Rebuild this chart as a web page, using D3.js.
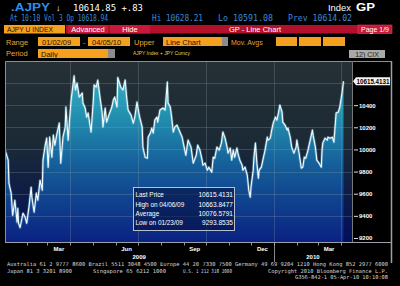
<!DOCTYPE html>
<html><head><meta charset="utf-8">
<script src="https://cdn.jsdelivr.net/npm/d3@7"></script>
<style>html,body{margin:0;padding:0;background:#000;overflow:hidden}svg{display:block}</style>
</head><body><svg id="c" width="400" height="286"></svg>
<script>
const dates = [
"2009-01-02","2009-01-07","2009-01-08","2009-01-11","2009-01-13","2009-01-16","2009-01-19","2009-01-20","2009-01-21","2009-01-23","2009-01-27","2009-01-30",
"2009-02-01","2009-02-04","2009-02-07","2009-02-08","2009-02-11","2009-02-14","2009-02-16","2009-02-19","2009-02-22","2009-02-23","2009-02-26","2009-02-28",
"2009-03-02","2009-03-04","2009-03-07","2009-03-09","2009-03-11","2009-03-14","2009-03-17","2009-03-19","2009-03-22","2009-03-25","2009-03-26","2009-03-29","2009-03-31",
"2009-04-02","2009-04-06","2009-04-08","2009-04-10","2009-04-13","2009-04-17","2009-04-18","2009-04-21","2009-04-23","2009-04-25","2009-04-29",
"2009-05-02","2009-05-03","2009-05-06","2009-05-08","2009-05-11","2009-05-14","2009-05-15","2009-05-18","2009-05-20","2009-05-23","2009-05-27","2009-05-29","2009-05-31",
"2009-06-03","2009-06-04","2009-06-08","2009-06-11","2009-06-14","2009-06-16","2009-06-18","2009-06-22","2009-06-25","2009-06-27","2009-06-30",
"2009-07-03","2009-07-07","2009-07-08","2009-07-11","2009-07-14","2009-07-15","2009-07-18","2009-07-20","2009-07-22","2009-07-24","2009-07-27","2009-07-28","2009-07-31",
"2009-08-04","2009-08-07","2009-08-10","2009-08-11","2009-08-14","2009-08-16","2009-08-18","2009-08-20","2009-08-23","2009-08-27","2009-08-30",
"2009-09-02","2009-09-04","2009-09-07","2009-09-11","2009-09-14","2009-09-18","2009-09-20","2009-09-23","2009-09-26","2009-09-27","2009-09-30",
"2009-10-03","2009-10-05","2009-10-09","2009-10-11","2009-10-13","2009-10-16","2009-10-19","2009-10-22","2009-10-24","2009-10-27","2009-10-30","2009-10-31",
"2009-11-03","2009-11-05","2009-11-07","2009-11-09","2009-11-12","2009-11-14","2009-11-16","2009-11-19","2009-11-20","2009-11-23","2009-11-26","2009-11-27","2009-11-28","2009-11-30",
"2009-12-01","2009-12-04","2009-12-05","2009-12-07","2009-12-09","2009-12-11","2009-12-12","2009-12-15","2009-12-17","2009-12-20","2009-12-23","2009-12-24","2009-12-27","2009-12-29","2009-12-31",
"2010-01-03","2010-01-05","2010-01-07","2010-01-09","2010-01-12","2010-01-13","2010-01-16","2010-01-19","2010-01-20","2010-01-23","2010-01-25","2010-01-28","2010-01-31",
"2010-02-01","2010-02-04","2010-02-07","2010-02-09","2010-02-11","2010-02-13","2010-02-16","2010-02-19","2010-02-22","2010-02-23","2010-02-26","2010-02-28",
"2010-03-03","2010-03-06","2010-03-07","2010-03-08","2010-03-11","2010-03-14","2010-03-15","2010-03-18","2010-03-21","2010-03-23","2010-03-26","2010-03-29","2010-03-31",
"2010-04-03","2010-04-05"];
const values = [
10010,9903,9695,9605,9405,9541,9342,9469,9333,9294,9424,9387,
9333,9478,9659,9568,9433,9605,9541,9722,9632,9903,10039,10102,
9840,10111,9930,10129,10039,10148,10238,9876,10111,10202,10383,10084,10283,
10446,10664,10537,10600,10473,10510,10419,10374,10292,10329,10157,
10446,10582,10564,10627,10473,10329,10202,10374,10247,10310,10383,10446,10473,
10383,10650,10564,10537,10627,10473,10356,10310,10238,10292,10428,
10310,10202,10021,9930,9921,10111,10148,10193,10148,10265,10292,10247,10356,
10374,10356,10609,10419,10383,10283,10157,10202,10220,10157,10111,
10012,9948,10084,10021,9876,9948,10039,9994,9903,9858,9876,
9813,9840,9795,9930,9921,10021,9994,10057,10157,10102,10012,9967,
10012,9903,9994,9930,10012,9948,9903,9858,9813,9840,9767,9704,9632,9568,
9659,9813,9930,10057,9876,9740,9813,9840,9903,9994,10111,10084,10102,10175,10238,
10292,10265,10329,10401,10338,10247,10220,10175,10193,10111,10021,9967,10021,
10084,9967,9831,9840,9930,9921,9994,10084,10175,10129,10021,9903,
9876,9840,9994,10057,10102,10084,10111,10102,10111,10066,10329,10338,10383,
10510,10615.41];
const yTicks = [9200,9400,9600,9800,10000,10200,10400];
const yGrid = [9400,9600,9800,10000,10200,10400,10600];
const labelMonths = ["2009-03","2009-06","2009-09","2009-12","2010-03"];
const gridDates = ["2009-04-01","2009-07-01","2009-10-01","2010-01-01","2010-04-01"];
const years = ["2009","2010"];
const statLabels = ["Last Price","High on 04/06/09","Average","Low on 01/23/09"];
const statValues = ["10615.4131","10663.8477","10076.5791","9293.8535"];
const lastLabel = "10615.4131";

const parse = d3.timeParse("%Y-%m-%d");
const data = dates.map((d,i)=>({date:parse(d), v:values[i]}));
const svg = d3.select("#c");
const L=5, R=352, T=61, B=242, AX=391;
const mono = "'DejaVu Sans Mono','Liberation Mono',monospace";
const sans = "'Liberation Sans',Arial,sans-serif";

function txt(x,y,s,o={}){
  const t = svg.append("text").attr("x",x).attr("y",y).text(s)
    .attr("font-family",o.ff||sans).attr("font-size",o.fs||7.5)
    .attr("fill",o.fill||"#fff");
  if(o.fw) t.attr("font-weight",o.fw);
  if(o.anchor) t.attr("text-anchor",o.anchor);
  if(o.tl) t.attr("textLength",o.tl).attr("lengthAdjust","spacingAndGlyphs");
  if(o.squeeze){ const n=t.node().getComputedTextLength(); t.attr("textLength",n*o.squeeze).attr("lengthAdjust","spacingAndGlyphs"); }
  return t;
}
function rect(x,y,w,h,fill,stroke){
  const r = svg.append("rect").attr("x",x).attr("y",y).attr("width",w).attr("height",h).attr("fill",fill);
  if(stroke) r.attr("stroke",stroke).attr("stroke-width",0.6);
  return r;
}

// ---- header ----
txt(11,11,".AJPY",{fw:"bold",fs:11,fill:"#2e8fe8",tl:39});
txt(56,11,"\u2193",{fs:9,fill:"#fff"});
txt(73,11,"10614.85 +.83",{ff:mono,fs:9.5,tl:70});
txt(328,11,"Index",{fs:9,tl:23});
txt(356,11,"GP",{fw:"bold",fs:10,tl:19});
const blue="#3a8ad6";
txt(10,21,"At 10:10 Vol 3 Op 10618.94",{ff:mono,fs:8.5,fill:blue,tl:98});
txt(152,21,"Hi 10628.21",{ff:mono,fs:8.5,fill:blue,tl:51});
txt(218,21,"Lo 10591.08",{ff:mono,fs:8.5,fill:blue,tl:55});
txt(288,21,"Prev 10614.02",{ff:mono,fs:8.5,fill:blue,tl:64});

const orange="#f5a01e", dark="#2a1400";
rect(4,25,61,8.5,orange);
txt(7,32,"AJPY U INDEX",{fs:7.5,fill:dark,tl:46});
rect(66,25,326,8.5,"#b3112b");
rect(68,25,40,8.5,"#c8193a");
rect(110,25,40,8.5,"#c8193a");
txt(88,32,"Advanced",{fs:7.5,anchor:"middle"});
txt(130,32,"Hide",{fs:7.5,anchor:"middle"});
txt(229,32,"GP - Line Chart",{fs:7.5});
rect(358,25,34,8.5,"#c8193a","#e04060");
txt(375,32,"Page 1/9",{fs:7,anchor:"middle"});

txt(6,45,"Range",{fs:7.5,fill:"#f0a030"});
rect(38,37,42,9,orange); txt(42,44.5,"01/02/09",{fs:7.5,fill:dark});
txt(83,44.5,"-",{fs:7.5,fill:"#f0a030"});
rect(88,37,42,9,orange); txt(92,44.5,"04/05/10",{fs:7.5,fill:dark});
txt(134,45,"Upper",{fs:7.5,fill:"#f0a030"});
rect(163,37,59,9,orange); txt(166,44.5,"Line Chart",{fs:7.5,fill:dark});
rect(222,37,6,9,"#8c8c8c");
txt(231,44.5,"Mov. Avgs",{fs:7,fill:"#dcaa38"});
[[276,21],[299,22],[323,22]].forEach(([x,w])=>rect(x,37,w,9,orange));

txt(6,56,"Period",{fs:7.5,fill:"#f0a030"});
rect(38,49,70,9,orange); txt(41,56.5,"Daily",{fs:7.5,fill:dark});
rect(108,49,7,9,"#8c8c8c");
txt(133,55,"AJPY Index + JPY Curncy",{fs:5,fill:"#f0d040",tl:57});
rect(349,50,36,8,"#a9a9a9");
txt(367,56.5,"12) CIX",{fs:7,fill:"#222",anchor:"middle"});

// ---- chart ----
const x = d3.scaleTime().domain([parse("2009-01-02"),parse("2010-04-05")]).range([4.5,343.5]);
const y = d3.scaleLinear().domain([9200,10600]).range([238,83]);

const defs = svg.append("defs");
const bg = defs.append("linearGradient").attr("id","bg").attr("gradientUnits","userSpaceOnUse")
  .attr("x1",0).attr("y1",T).attr("x2",0).attr("y2",B);
bg.selectAll("stop").data([[0,"#263035"],[0.45,"#1b2a36"],[0.78,"#0c1a4a"],[1,"#030e5c"]]).join("stop")
  .attr("offset",d=>d[0]).attr("stop-color",d=>d[1]);
const ag = defs.append("linearGradient").attr("id","ag").attr("gradientUnits","userSpaceOnUse")
  .attr("x1",0).attr("y1",T).attr("x2",0).attr("y2",B);
ag.selectAll("stop").data([[0,"#3fb7cc"],[0.3,"#2390b0"],[0.6,"#145a98"],[1,"#0a2282"]]).join("stop")
  .attr("offset",d=>d[0]).attr("stop-color",d=>d[1]);
defs.append("clipPath").attr("id","clip").append("rect").attr("x",L).attr("y",T).attr("width",R-L).attr("height",B-T);

svg.append("rect").attr("x",L).attr("y",T).attr("width",R-L).attr("height",B-T).attr("fill","url(#bg)");
const g = svg.append("g").attr("clip-path","url(#clip)");
g.append("path").datum(data).attr("fill","url(#ag)")
  .attr("d",d3.area().x(d=>x(d.date)).y0(B).y1(d=>y(d.v)));
g.selectAll(".hg").data(yGrid).join("line").attr("x1",L).attr("x2",R)
  .attr("y1",d=>Math.round(y(d))+0.5).attr("y2",d=>Math.round(y(d))+0.5)
  .attr("stroke","#8ea0a8").attr("stroke-opacity",0.35).attr("stroke-width",0.8);
g.selectAll(".vg").data(gridDates.map(parse)).join("line")
  .attr("x1",d=>Math.round(x(d))+0.5).attr("x2",d=>Math.round(x(d))+0.5).attr("y1",T).attr("y2",B)
  .attr("stroke","#8ea0a8").attr("stroke-opacity",0.35).attr("stroke-width",0.8);
const line = d3.line().x(d=>x(d.date)).y(d=>y(d.v));
g.append("path").datum(data).attr("fill","none").attr("stroke","#9fe6f5").attr("stroke-opacity",0.35)
  .attr("stroke-width",2.6).attr("stroke-linejoin","round").attr("d",line);
g.append("path").datum(data).attr("fill","none").attr("stroke","#f2fbff")
  .attr("stroke-width",1.1).attr("stroke-linejoin","round").attr("d",line);

// frame
svg.append("path").attr("d",`M${L+0.5},${B}V${T+0.5}H${AX}`).attr("fill","none").attr("stroke","#8a8f94").attr("stroke-width",1);
svg.append("line").attr("x1",L).attr("x2",AX).attr("y1",B+0.5).attr("y2",B+0.5).attr("stroke","#9aa0a6").attr("stroke-width",1);
svg.append("line").attr("x1",R+0.5).attr("x2",R+0.5).attr("y1",T).attr("y2",B).attr("stroke","#777").attr("stroke-width",1);
svg.append("line").attr("x1",AX+0.5).attr("x2",AX+0.5).attr("y1",T).attr("y2",263).attr("stroke","#a0a0a0").attr("stroke-width",1.5);

// right axis
const ya = svg.append("g").attr("transform",`translate(${R},0)`)
  .call(d3.axisRight(y).tickValues(yTicks).tickSize(4).tickPadding(3).tickFormat(d3.format("d")));
ya.select(".domain").remove();
ya.selectAll("line").attr("stroke","#ddd").attr("transform","translate(2,0)");
ya.selectAll("text").attr("fill","#fff").attr("font-family",sans).attr("font-size",6).attr("font-weight","bold");

// last price label
const ly = y(values[values.length-1]);
svg.append("path").attr("d",`M${R+1},${ly}L${R+4},${ly-4}H${AX-1}V${ly+4}H${R+4}Z`).attr("fill","#f4f4f4");
txt(373,ly+2.3,lastLabel,{fs:6.3,fw:"bold",fill:"#000",anchor:"middle",tl:33});

// x axis
const monthStarts = d3.timeMonth.range(parse("2009-02-01"),parse("2010-04-06"));
svg.selectAll(".mt").data(monthStarts).join("line")
  .attr("x1",d=>Math.round(x(d))+0.5).attr("x2",d=>Math.round(x(d))+0.5).attr("y1",B+1).attr("y2",B+3.5)
  .attr("stroke","#bbb").attr("stroke-width",0.8);
const fmtM = d3.timeFormat("%b");
labelMonths.forEach(m=>{
  const s = d3.timeParse("%Y-%m")(m), e = d3.timeMonth.offset(s,1);
  txt((x(s)+x(e))/2,250.5,fmtM(s),{fs:6,fw:"bold",anchor:"middle"});
});
years.forEach(yr=>{
  const s = d3.max([parse(yr+"-01-01"),x.domain()[0]]);
  const sx = x(s), ex = Math.min(x(parse((+yr+1)+"-01-01")), R);
  txt((sx+ex)/2,259,yr,{fs:6,fw:"bold",anchor:"middle"});
});
const jx = Math.round(x(parse("2010-01-01")))+0.5;
svg.append("line").attr("x1",jx).attr("x2",jx).attr("y1",B+1).attr("y2",262).attr("stroke","#aaa").attr("stroke-width",0.8);

// stats box
svg.append("rect").attr("x",133.5).attr("y",187.5).attr("width",101).attr("height",43)
  .attr("fill","#050c3c").attr("fill-opacity",0.55).attr("stroke","#c8d0d8").attr("stroke-width",0.9);
statLabels.forEach((s,i)=>{
  txt(135.5,197.3+i*9.3,s,{fs:7.8,fill:"#fff",squeeze:0.82});
  txt(233,197.3+i*9.3,statValues[i],{fs:7.8,fill:"#fff",anchor:"end",squeeze:0.84});
});

// footer
const fc="#d6d6d6";
txt(7,266,"Australia 61 2 9777 8600 Brazil 5511 3048 4500 Europe 44 20 7330 7500 Germany 49 69 9204 1210 Hong Kong 852 2977 6000",{ff:mono,fs:5.3,fill:fc,tl:381});
txt(7,272.5,"Japan 81 3 3201 8900",{ff:mono,fs:5.3,fill:fc,tl:65});
txt(93,272.5,"Singapore 65 6212 1000",{ff:mono,fs:5.3,fill:fc,tl:73});
txt(183,272.5,"U.S. 1 212 318 2000",{ff:mono,fs:5.3,fill:fc,tl:49});
txt(268,272.5,"Copyright 2010 Bloomberg Finance L.P.",{ff:mono,fs:5.3,fill:fc,tl:120});
txt(295,279,"G356-842-1 05-Apr-10 10:10:08",{ff:mono,fs:5.3,fill:fc,tl:93});
</script></body></html>
